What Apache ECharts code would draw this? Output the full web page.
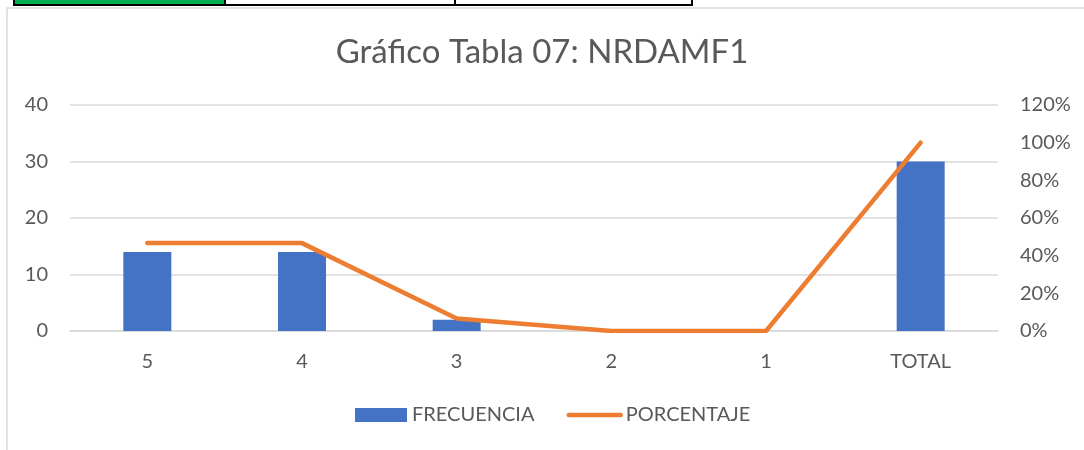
<!DOCTYPE html>
<html>
<head>
<meta charset="utf-8">
<script src="https://cdn.jsdelivr.net/npm/echarts@6/dist/echarts.min.js"></script>
<style>
  html, body { margin: 0; padding: 0; background: #fff; }
  #main { width: 1084px; height: 450px; }
</style>
</head>
<body>
<div id="main"></div>
<script>
var chartDom = document.getElementById('main');
var myChart = echarts.init(chartDom);
var option;

var categorias = ['5', '4', '3', '2', '1', 'TOTAL'];
var frecuencia = [14, 14, 2, 0, 0, 30];
var porcentaje = [0.4667, 0.4667, 0.0667, 0, 0, 1];

var gris = '#595959';
var fuente = 'Lato';

option = {
    animation: false,
    backgroundColor: '#fff',
    textStyle: { fontFamily: fuente },
    // restos de las celdas de excel arriba y borde del grafico
    graphic: [
        { type: 'rect', shape: { x: 7, y: 8, width: 1100, height: 460 }, style: { fill: 'none', stroke: '#D9D9D9', lineWidth: 1.5 } },
        { type: 'rect', shape: { x: 14, y: -2, width: 211, height: 7 }, style: { fill: '#00B050' } },
        { type: 'rect', shape: { x: 14, y: -2, width: 678, height: 7 }, style: { fill: 'none', stroke: '#000', lineWidth: 2 } },
        { type: 'line', shape: { x1: 225, y1: 0, x2: 225, y2: 5 }, style: { stroke: '#000', lineWidth: 2 } },
        { type: 'line', shape: { x1: 455, y1: 0, x2: 455, y2: 5 }, style: { stroke: '#000', lineWidth: 2 } }
    ],
    title: {
        text: 'Gráfico Tabla 07: NRDAMF1',
        left: 'center',
        top: 31,
        textStyle: { color: gris, fontSize: 33, fontWeight: 'normal', fontFamily: fuente }
    },
    legend: {
        bottom: 20,
        left: 350,
        itemGap: 32,
        itemWidth: 52,
        itemHeight: 14,
        textStyle: { color: gris, fontSize: 20, fontFamily: fuente },
        data: [
            { name: 'FRECUENCIA', icon: 'rect' },
            { name: 'PORCENTAJE', itemStyle: { opacity: 0 }, lineStyle: { width: 4.5, cap: 'round' } }
        ]
    },
    grid: {
        left: 70,
        right: 86,
        top: 105,
        bottom: 119
    },
    xAxis: {
        type: 'category',
        data: categorias,
        axisLine: { lineStyle: { color: '#D9D9D9', width: 1.5 } },
        axisTick: { show: false },
        axisLabel: { color: gris, fontSize: 20, margin: 21, fontFamily: fuente }
    },
    yAxis: [
        {
            type: 'value',
            min: 0,
            max: 40,
            interval: 10,
            axisLine: { show: false },
            axisTick: { show: false },
            axisLabel: { color: gris, fontSize: 20, margin: 22, fontFamily: fuente },
            splitLine: { lineStyle: { color: '#D9D9D9', width: 1.5 } }
        },
        {
            type: 'value',
            min: 0,
            max: 1.2,
            interval: 0.2,
            axisLine: { show: false },
            axisTick: { show: false },
            splitLine: { show: false },
            axisLabel: {
                color: gris, fontSize: 20, margin: 22, fontFamily: fuente,
                formatter: function (v) { return Math.round(v * 100) + '%'; }
            }
        }
    ],
    series: [
        {
            name: 'FRECUENCIA',
            type: 'bar',
            data: frecuencia,
            barWidth: 48,
            itemStyle: { color: '#4472C4' }
        },
        {
            name: 'PORCENTAJE',
            type: 'line',
            yAxisIndex: 1,
            data: porcentaje,
            symbol: 'none',
            lineStyle: { color: '#ED7D31', width: 4.5, cap: 'round', join: 'round' },
            itemStyle: { color: '#ED7D31' }
        }
    ]
};

option && myChart.setOption(option);
</script>
</body>
</html>
